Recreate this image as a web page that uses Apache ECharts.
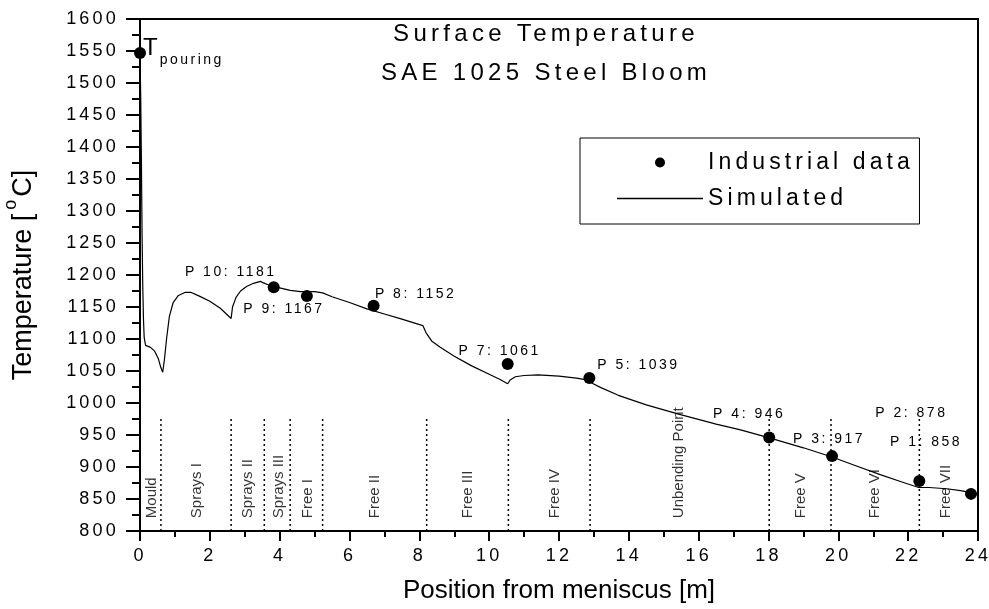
<!DOCTYPE html>
<html>
<head>
<meta charset="utf-8">
<script src="https://cdn.jsdelivr.net/npm/echarts@6/dist/echarts.min.js"></script>
<style>
  html, body { margin: 0; padding: 0; background: #fff; }
  #main { width: 989px; height: 609px; }
</style>
</head>
<body>
<div id="main"></div>
<script>
// simulated surface temperature along the strand
const simPos = [0, 0.02, 0.04, 0.06, 0.08, 0.1, 0.12, 0.16, 0.3, 0.42, 0.52, 0.6, 0.65, 0.7, 0.76, 0.84,
  0.95, 1.1, 1.3, 1.45, 1.7, 2.0, 2.3, 2.61, 2.65, 2.75, 2.88, 3.05, 3.25, 3.45, 3.52, 3.7, 4.0, 4.3,
  4.6, 5.0, 5.23, 5.5, 6.0, 6.5, 7.0, 7.5, 8.1, 8.19, 8.35, 8.6, 9.0, 9.5, 10.0, 10.3, 10.53, 10.6,
  10.75, 11.0, 11.4, 12.0, 12.5, 12.8, 12.95, 13.2, 13.7, 14.5, 15.4, 16.5, 17.2, 18.0, 19.0, 19.8,
  20.5, 21.2, 21.8, 22.3, 22.6, 23.1, 23.5, 24.0];
const simTemp = [1547, 1480, 1380, 1260, 1180, 1130, 1102, 1090, 1087, 1081, 1070, 1055, 1048, 1068, 1100, 1135,
  1157, 1168, 1173, 1173, 1167, 1159, 1148, 1132, 1150, 1165, 1175, 1182, 1187, 1190, 1188, 1184, 1180, 1176,
  1174, 1174, 1172, 1166, 1157, 1147, 1139, 1131, 1121, 1110, 1097, 1087, 1073, 1058, 1045, 1037, 1030, 1036,
  1041, 1043, 1044, 1042, 1039, 1036, 1031, 1024, 1012, 997, 983, 967, 958, 946, 930, 916,
  902, 888, 877, 868, 868, 866, 863, 858];

// plant measurements
const pointPos = [3.83, 4.78, 6.69, 10.53, 12.87, 18.02, 19.82, 22.32, 23.8];
const pointTemp = [1181, 1167, 1152, 1061, 1039, 946, 917, 878, 858];
const pointNames = ['P 10', 'P 9', 'P 8', 'P 7', 'P 5', 'P 4', 'P 3', 'P 2', 'P 1'];
const pouringTemp = 1547;

// cooling zones
const zoneBorders = [0.6, 2.61, 3.56, 4.3, 5.23, 8.21, 10.55, 12.89, 18.02, 19.79, 22.32];
const zoneTop = 975;
const zoneNames = ['Mould', 'Sprays I', 'Sprays II', 'Sprays III', 'Free I', 'Free II', 'Free III',
  'Free IV', 'Unbending Point', 'Free V', 'Free VI', 'Free VII'];
const zoneLabelPos = [0.35, 1.63, 3.1, 3.99, 4.82, 6.74, 9.4, 11.89, 15.42, 18.93, 21.06, 23.09];
const zoneLabelBase = 820;

// where each point label sits relative to its dot (px)
const labelOffsets = [[-43, -15], [-23, 13], [42, -12], [-8, -13], [49, -13], [-20, -23], [-3, -17], [-8, -68], [-45, -52]];

// the original figure uses wide letter spacing on most texts,
// fonts that list "Tracked" get it when drawn on the canvas
const baseFillText = CanvasRenderingContext2D.prototype.fillText;
CanvasRenderingContext2D.prototype.fillText = function (text, x, y, maxWidth) {
  const m = /([\d.]+)px/.exec(this.font);
  const size = m ? parseFloat(m[1]) : 12;
  this.letterSpacing = this.font.includes('Tracked') ? (size * 0.18).toFixed(1) + 'px' : '0px';
  return maxWidth === undefined
    ? baseFillText.call(this, text, x, y)
    : baseFillText.call(this, text, x, y, maxWidth);
};

const tracked = 'Liberation Sans, Tracked';
const plain = 'Liberation Sans';
const black = '#000';

const myChart = echarts.init(document.getElementById('main'));

const axisLine = { show: true, onZero: false, lineStyle: { color: black, width: 2 } };

const zoneSeries = zoneBorders.map((b) => ({
  type: 'line',
  data: [[b, 800], [b, zoneTop]],
  symbol: 'none',
  silent: true,
  lineStyle: { color: black, width: 1.5, type: [2, 3] },
}));

const option = {
  animation: false,
  title: {
    text: 'Surface Temperature\nSAE 1025 Steel Bloom',
    left: 546,
    top: 15,
    textAlign: 'center',
    padding: 0,
    textStyle: { fontFamily: tracked, fontSize: 24, fontWeight: 'normal', color: black, lineHeight: 39 },
  },
  legend: {
    orient: 'vertical',
    left: 580,
    top: 138,
    padding: [13, 67, 14, 37],
    itemGap: 13,
    itemWidth: 86,
    itemHeight: 10,
    borderColor: black,
    borderWidth: 1,
    data: [
      { name: 'Industrial data', icon: 'circle' },
      { name: 'Simulated', icon: 'path://M0,0L86,0L86,1.3L0,1.3Z' },
    ],
    textStyle: { fontFamily: tracked, fontSize: 23, color: black },
  },
  grid: {
    left: 140, right: 11, top: 19, bottom: 78,
    outerBoundsMode: 'none',
    show: true, borderColor: black, borderWidth: 2,
  },
  xAxis: {
    type: 'value',
    min: 0,
    max: 24,
    interval: 2,
    name: 'Position from meniscus [m]',
    nameLocation: 'middle',
    nameGap: 47,
    nameTextStyle: { fontFamily: plain, fontSize: 26, color: black },
    axisLine: axisLine,
    axisTick: { show: true, length: 10, lineStyle: { color: black, width: 2 } },
    minorTick: { show: true, splitNumber: 2, length: 6, lineStyle: { color: black, width: 2 } },
    axisLabel: { margin: 16, fontFamily: tracked, fontSize: 18, color: black, formatter: (v) => String(v) },
    splitLine: { show: false },
  },
  yAxis: {
    type: 'value',
    min: 800,
    max: 1600,
    interval: 50,
    name: 'Temperature [{sup|o}C]',
    nameLocation: 'middle',
    nameGap: 94,
    nameTextStyle: {
      fontFamily: plain,
      fontSize: 27,
      color: black,
      rich: { sup: { fontFamily: plain, fontSize: 18, color: black, padding: [0, 3, 26, 4] } },
    },
    axisLine: axisLine,
    axisTick: { show: true, length: 14, lineStyle: { color: black, width: 2 } },
    minorTick: { show: true, splitNumber: 2, length: 8, lineStyle: { color: black, width: 2 } },
    axisLabel: { margin: 21, fontFamily: tracked, fontSize: 18, color: black, formatter: (v) => String(v) },
    splitLine: { show: false },
  },
  series: [
    ...zoneSeries,
    {
      type: 'scatter',
      silent: true,
      symbolSize: 0,
      data: zoneLabelPos.map((x, i) => ({ value: [x, zoneLabelBase], name: zoneNames[i] })),
      label: {
        show: true,
        position: 'inside',
        formatter: '{b}',
        rotate: 90,
        align: 'left',
        verticalAlign: 'middle',
        fontFamily: plain,
        fontSize: 15,
        color: black,
      },
    },
    {
      name: 'Simulated',
      type: 'line',
      data: simPos.map((x, i) => [x, simTemp[i]]),
      symbol: 'none',
      clip: false,
      color: black,
      lineStyle: { color: black, width: 1.2 },
    },
    {
      name: 'Industrial data',
      type: 'scatter',
      symbol: 'circle',
      symbolSize: 12,
      color: black,
      itemStyle: { color: black, opacity: 1 },
      data: pointPos.map((x, i) => ({
        value: [x, pointTemp[i]],
        label: { offset: labelOffsets[i] },
      })),
      label: {
        show: true,
        position: 'inside',
        formatter: (p) => pointNames[p.dataIndex] + ': ' + p.value[1],
        fontFamily: tracked,
        fontSize: 14,
        color: black,
      },
    },
    {
      type: 'scatter',
      symbolSize: 12,
      color: black,
      itemStyle: { color: black, opacity: 1 },
      clip: false,
      data: [[0, pouringTemp]],
      label: {
        show: true,
        position: 'right',
        distance: 0,
        offset: [-3, -5],
        formatter: '{t|T}{s|pouring}',
        rich: {
          t: { fontFamily: tracked, fontSize: 24, color: black },
          s: { fontFamily: tracked, fontSize: 14, color: black, padding: [24, 0, 0, 2] },
        },
      },
    },
  ],
};

myChart.setOption(option);
</script>
</body>
</html>
